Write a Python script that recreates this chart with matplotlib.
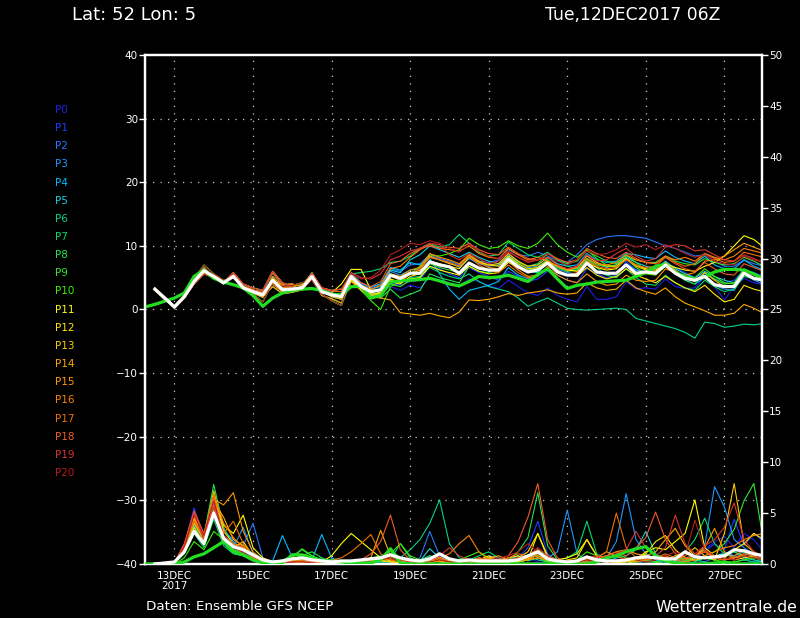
import matplotlib

matplotlib.use("Agg")
import matplotlib.pyplot as plt
import numpy as np

# forecast steps, hours after 12DEC2017 06Z (6-hourly)
step_hours = 6
n_steps = 63

member_names = ["P%d" % k for k in range(21)]
member_colors = [
    "#1e1ee6", "#1e3cff", "#2878ff", "#1e96ff", "#00beff", "#14d2dc", "#00d28c",
    "#00dc6e", "#1ee650", "#32e632", "#3cf000", "#ffff00", "#ffe600", "#ffc800",
    "#ffaa00", "#ff9600", "#ff8200", "#f06e00", "#f05a28", "#dc3232", "#b41e1e",
]

# 850 hPa temperature per member (left axis), steps 1..63
t_p0 = [3.2,1.6,0.2,1.8,4.3,6.0,5.3,4.3,5.1,3.3,2.7,2.0,3.6,2.5,2.7,3.1,5.0,2.2,1.7,1.0,
        4.8,3.0,2.2,2.6,3.6,3.0,3.8,3.4,5.0,4.6,4.2,3.5,4.8,4.4,3.8,3.3,4.6,3.6,2.6,2.2,
        3.4,2.2,1.6,1.2,3.6,1.6,1.6,2.0,4.4,3.2,3.4,3.2,4.8,3.6,3.3,3.4,5.2,3.6,1.5,3.6,4.9,4.2,3.9]
t_p1 = [3.1,1.7,0.5,1.9,4.2,5.8,5.4,4.4,5.0,3.7,3.1,2.6,4.0,2.8,3.0,3.2,4.8,2.6,2.5,2.4,
        5.0,3.4,2.5,2.8,4.2,3.8,4.4,4.6,6.8,6.4,5.6,5.0,6.6,5.8,5.2,4.6,6.0,5.2,4.4,4.8,
        6.0,5.4,4.6,4.2,6.4,5.6,5.0,5.4,7.6,6.2,5.8,6.0,7.4,6.6,5.8,5.0,5.6,4.8,4.2,4.6,6.2,5.8,5.2]
t_p2 = [3.2,1.8,0.4,2.1,4.5,6.2,5.1,4.1,5.3,3.5,2.9,2.2,4.8,3.9,4.0,3.6,5.3,3.1,2.6,1.9,
        5.4,4.0,3.4,4.0,6.4,6.0,7.0,7.2,8.6,8.0,7.6,7.0,8.4,7.6,7.4,7.8,9.4,8.6,8.4,9.0,
        8.4,7.6,7.4,8.6,10.2,11.0,11.4,11.6,11.6,11.4,11.2,10.6,10.0,9.6,9.0,8.4,8.6,7.6,6.8,6.8,7.8,7.2,6.8]
t_p3 = [3.3,1.9,0.3,2.2,4.6,6.4,5.0,4.0,5.4,3.2,2.6,1.9,5.2,3.4,3.6,3.9,5.6,3.0,2.0,1.6,
        5.6,4.0,3.0,3.2,6.0,5.4,6.2,6.4,8.2,7.8,7.4,6.6,8.0,7.2,6.8,7.0,8.6,7.6,6.6,6.8,
        7.8,6.4,5.8,5.6,7.6,6.0,5.4,5.8,7.2,6.2,6.0,5.8,7.0,5.6,4.6,4.0,5.0,3.8,3.2,3.0,5.6,4.6,4.0]
t_p4 = [3.3,1.9,0.6,2.3,4.7,6.6,5.1,4.1,5.6,3.6,3.0,2.8,5.8,3.7,3.3,3.5,5.8,3.3,2.9,2.8,
        5.8,4.2,3.6,4.0,6.6,6.2,7.4,7.0,8.0,5.6,3.2,1.6,3.0,3.4,3.8,4.4,6.6,5.4,4.8,5.4,
        8.2,7.2,6.8,7.0,8.8,7.8,7.4,7.6,8.8,8.6,8.2,8.0,9.2,8.2,7.6,7.2,8.4,7.0,6.4,6.4,7.8,6.8,6.2]
t_p5 = [3.4,2.0,0.5,1.8,4.0,5.6,5.0,4.2,5.8,4.0,3.4,3.0,6.0,4.2,3.6,3.0,5.6,3.4,3.0,3.2,
        5.4,3.8,3.2,3.6,6.2,5.8,7.8,8.6,10.0,9.4,8.8,8.2,9.0,8.2,7.6,7.2,8.2,7.0,6.0,5.8,
        7.4,6.8,6.2,6.4,8.0,7.2,6.6,7.0,8.2,7.4,6.8,6.4,7.6,6.4,5.6,5.0,6.0,5.2,4.6,4.2,6.4,5.6,5.0]
t_p6 = [3.0,1.6,0.3,2.0,4.8,7.0,5.6,4.6,5.0,3.4,2.4,1.2,4.2,3.6,3.8,4.2,4.6,2.4,1.4,0.6,
        4.6,3.0,2.2,2.6,4.8,4.2,5.0,5.2,6.6,5.8,5.2,4.8,5.6,4.4,3.6,3.2,2.8,1.8,0.5,1.2,
        1.8,1.0,0.2,0.0,-0.1,0.0,0.1,0.2,0.0,-1.4,-1.8,-2.2,-2.6,-3.0,-3.6,-4.5,-2.0,-2.2,-2.8,-2.6,-2.3,-2.4,-2.2]
t_p7 = [3.3,1.9,0.6,2.3,4.7,6.6,5.1,4.1,5.6,3.6,3.0,2.8,5.8,3.7,3.3,3.5,5.8,3.3,2.9,2.8,
        5.6,5.8,6.0,6.4,7.4,7.6,8.4,9.6,10.4,9.8,10.2,11.8,10.4,9.0,8.4,8.6,10.6,9.6,8.6,8.2,
        9.0,7.8,6.8,6.4,8.0,6.6,5.4,5.0,6.4,5.0,4.0,3.8,5.4,4.2,3.4,3.0,4.6,3.6,2.8,3.2,5.2,4.8,4.4]
t_p8 = [3.2,1.6,0.2,1.8,4.3,6.0,5.3,4.3,5.1,3.3,2.7,2.0,3.6,2.5,2.7,3.1,5.0,2.2,1.7,1.0,
        5.0,3.2,2.4,1.8,3.2,1.8,2.4,3.0,5.6,5.0,4.6,4.2,6.8,6.0,5.8,6.2,8.4,7.4,6.8,7.2,
        8.8,7.8,7.2,7.6,9.2,8.4,7.6,7.2,8.6,7.4,6.2,5.8,6.8,5.6,4.6,4.0,5.8,4.8,4.0,4.2,6.2,5.4,5.0]
t_p9 = [3.3,1.9,0.3,2.2,4.6,6.4,5.0,4.0,5.4,3.2,2.6,1.9,5.2,3.4,3.6,3.9,5.6,3.0,2.0,1.6,
        5.2,3.4,2.6,2.2,4.0,3.6,4.6,5.0,7.2,6.6,6.2,5.8,7.4,6.6,6.0,6.0,7.8,6.8,6.2,6.6,
        7.8,6.6,6.0,6.2,7.8,7.0,6.8,7.0,8.4,7.8,7.4,7.4,8.4,7.6,7.2,7.0,8.0,7.4,7.0,7.2,8.2,7.6,6.8]
t_p10 = [3.0,1.6,0.3,2.0,4.8,7.0,5.6,4.6,5.0,3.4,2.4,1.2,4.2,3.6,3.8,4.2,4.6,2.4,1.4,0.6,
         5.0,3.0,1.4,0.0,3.6,4.4,5.6,6.8,8.6,8.4,8.8,9.4,11.2,10.2,9.6,9.8,10.8,10.0,9.6,10.4,
         12.0,10.2,9.0,8.2,9.4,8.0,7.0,6.6,8.0,6.6,5.6,5.4,6.8,5.8,5.2,5.0,6.4,5.2,4.2,4.0,5.6,5.0,4.6]
t_p11 = [3.2,1.8,0.4,2.1,4.5,6.2,5.1,4.1,5.3,3.5,2.9,2.2,4.8,3.9,4.0,3.6,5.3,3.1,2.6,4.0,
         6.3,6.3,3.1,2.6,4.8,4.2,4.8,5.0,6.8,6.2,5.8,5.4,6.8,6.0,5.6,5.8,7.4,6.6,6.0,6.4,
         7.6,6.8,6.2,6.0,7.4,6.6,6.2,6.4,8.0,7.0,6.4,6.2,7.2,6.6,6.2,6.0,6.8,7.4,8.4,10.0,11.6,11.0,9.8]
t_p12 = [3.1,1.7,0.5,1.9,4.2,5.8,5.4,4.4,5.0,3.7,3.1,2.6,4.0,2.8,3.0,3.2,4.8,2.6,2.5,2.4,
         4.6,3.2,2.4,2.6,4.4,4.0,5.2,5.6,7.6,7.2,6.8,6.4,8.2,7.4,7.0,6.8,8.4,7.2,6.4,6.6,
         7.6,6.2,5.4,5.2,6.6,5.4,4.8,5.2,6.4,5.4,4.8,4.2,5.2,4.2,3.4,2.8,3.8,2.4,1.2,1.6,3.8,3.2,2.8]
t_p13 = [3.4,2.0,0.5,1.8,4.0,5.6,5.0,4.2,5.8,4.0,3.4,3.0,6.0,4.2,3.6,3.0,5.6,3.4,3.0,3.2,
         4.8,3.4,2.2,2.4,4.6,4.4,5.6,6.2,8.4,7.8,7.2,6.8,8.6,7.6,7.0,7.2,8.8,7.6,6.8,7.0,
         8.2,7.0,6.2,6.6,8.4,7.4,6.8,6.8,8.0,6.8,6.2,6.0,7.4,6.2,5.0,4.4,5.8,4.6,3.6,3.8,6.2,5.6,5.0]
t_p14 = [3.2,1.6,0.2,1.8,4.3,6.0,5.3,4.3,5.1,3.3,2.7,2.0,3.6,2.5,2.7,3.1,5.0,2.2,1.7,1.0,
         4.4,3.0,2.0,1.8,1.5,-0.5,-0.7,-0.9,-0.6,-1.0,-1.3,-0.4,1.5,1.4,1.6,2.0,2.5,2.2,2.6,2.8,
         3.1,2.6,2.4,2.6,4.2,3.4,3.0,3.2,4.6,3.4,2.8,2.4,3.4,2.0,1.0,0.4,-0.2,-0.9,-0.9,-0.6,0.8,0.2,-0.6]
t_p15 = [3.3,1.9,0.3,2.2,4.6,6.4,5.0,4.0,5.4,3.2,2.6,1.9,5.2,3.4,3.6,3.9,5.6,3.0,2.0,1.6,
         5.2,3.6,2.8,3.2,5.6,5.2,6.2,6.6,8.8,8.2,7.8,7.2,8.6,7.4,6.6,6.4,7.6,6.2,5.2,5.4,
         6.6,5.4,4.6,4.2,5.6,4.4,3.8,4.0,5.4,4.6,4.4,4.6,6.4,5.8,5.4,5.8,7.6,7.8,8.4,9.4,10.4,9.8,9.2]
t_p16 = [3.2,1.8,0.4,2.1,4.5,6.2,5.1,4.1,5.3,3.5,2.9,2.2,4.8,3.9,4.0,3.6,5.3,3.1,2.6,1.9,
         5.4,3.8,3.2,3.8,6.4,6.8,8.2,9.4,10.2,9.6,9.4,9.2,10.0,8.8,8.2,8.0,9.6,8.6,7.8,8.2,
         7.6,6.8,6.2,6.6,8.0,7.2,7.0,7.4,8.6,7.8,7.4,7.2,8.4,7.8,8.2,7.6,8.8,8.2,7.8,8.4,9.6,9.2,8.8]
t_p17 = [3.1,1.7,0.5,1.9,4.2,5.8,5.4,4.4,5.0,3.7,3.1,2.6,4.0,2.8,3.0,3.2,4.8,2.6,2.5,2.4,
         5.0,3.6,2.8,3.0,5.2,4.6,5.6,6.4,8.2,7.8,7.4,6.8,8.4,7.0,6.2,5.8,7.0,5.8,5.0,5.2,
         6.8,6.0,5.4,5.8,7.6,6.8,6.4,6.6,7.8,7.0,6.6,6.8,8.2,7.4,6.8,7.2,8.8,8.0,7.4,7.6,9.0,8.6,8.2]
t_p18 = [3.3,1.9,0.6,2.3,4.7,6.6,5.1,4.1,5.6,3.6,3.0,2.8,5.8,3.7,3.3,3.5,5.8,3.3,2.9,2.8,
         5.4,4.2,3.6,4.4,7.2,7.6,8.8,9.6,10.0,9.6,9.8,9.6,10.4,9.4,8.8,8.6,9.8,8.8,8.0,7.8,
         8.8,8.0,7.4,7.8,9.6,8.8,8.2,8.0,9.0,8.0,7.4,7.2,8.2,7.2,6.4,6.0,7.4,6.4,5.6,5.4,7.2,6.6,6.0]
t_p19 = [3.4,2.0,0.5,1.8,4.0,5.6,5.0,4.2,5.8,4.0,3.4,3.0,6.0,4.2,3.6,3.0,5.6,3.4,3.0,3.2,
         5.8,5.0,4.8,5.6,7.8,8.4,9.2,9.6,10.4,10.2,8.6,7.8,8.8,8.0,7.2,7.6,9.0,8.2,7.4,7.8,
         8.2,7.0,6.4,6.8,8.6,7.6,7.8,8.8,9.6,8.4,7.6,8.0,9.8,10.2,10.0,9.2,9.4,8.6,7.8,7.6,8.6,8.0,7.4]
t_p20 = [3.0,1.6,0.3,2.0,4.8,7.0,5.6,4.6,5.0,3.4,2.4,1.2,4.2,3.6,3.8,4.2,4.6,2.4,1.4,0.6,
         5.6,4.8,5.0,6.2,8.6,9.4,10.4,10.2,10.8,10.4,9.6,9.0,10.2,9.2,8.4,8.0,9.2,8.2,7.6,7.8,
         8.8,7.6,7.0,7.8,9.2,8.6,8.8,9.4,10.4,9.8,10.2,9.4,10.2,9.6,8.8,8.2,8.6,7.6,7.2,7.0,8.4,7.8,7.4]

# ensemble mean (white) and main run (thick green, starts at step 0)
t_mean = [3.2,1.8,0.4,2.0,4.4,6.1,5.2,4.2,5.2,3.4,2.8,2.3,4.6,3.1,3.2,3.4,5.2,2.8,2.3,2.0,
          5.2,3.6,2.8,3.1,5.4,4.9,5.7,5.7,7.5,7.0,6.7,5.7,7.3,6.5,6.2,6.2,7.9,6.7,5.9,6.2,
          7.3,5.9,5.4,5.4,7.3,5.9,5.7,5.7,7.0,5.7,5.9,5.7,7.0,5.7,4.9,4.6,5.2,3.9,3.6,3.6,5.7,4.9,4.6]
t_main = [0.4,0.8,1.3,1.8,2.6,5.2,6.2,4.9,4.3,3.9,3.4,2.2,0.5,1.8,2.6,3.0,3.2,3.3,3.0,2.4,
          2.3,3.6,3.6,1.8,2.2,4.3,4.5,4.6,4.7,4.9,4.5,4.0,3.7,4.4,5.2,5.0,5.1,5.4,4.9,4.4,
          5.5,6.4,4.8,3.3,3.8,4.0,4.3,4.4,4.5,4.6,5.2,5.8,6.8,7.1,5.8,5.2,4.7,5.1,5.9,6.3,6.3,6.2,5.6,4.8]

# 6-hourly precipitation per member (right axis), steps 1..63
pr_p0 = [0,0,0.1, 1.4,3.6,2.2,6.0, 2.8,1.8,1.2,0.6, 0.2,0,0.4,0.2, 0,0,0.3,0, 0,0,0.3,0.2, 0,0.4,0.2,0, 0,0.5,0.3,0, 0,0.2,0,0, 0,0,0.2,0.6, 0.2,0,0,0, 0,0.5,0.3,0, 0,0.2,0.4,0.2, 0,0.6,0.3,0.4, 0.8,1.4,2.2,2.7, 1.6,3.0,2.4,1.2]
pr_p1 = [0,0,0.2, 1.8,5.5,2.4,5.2, 2.0,1.2,0.8,0.3, 0.1,0,0,0.2, 0.4,0.2,0.1,0, 0,0,0,0.1, 0.3,0.6,0.2,0, 0,0.3,0.8,0.4, 0,0,0,0.2, 0.3,0.1,0.6,1.6, 4.2,1.0,0.2,0, 0,0.3,0.6,0.2, 0,0,0.3,0.6, 0.2,0,0,0.4, 0.6,1.2,2.0,1.4, 4.4,1.8,3.0,2.2]
pr_p2 = [0,0,0.1, 1.2,4.0,2.6,6.8, 3.2,2.4,1.8,4.0, 0.6,0.2,0.1,0.2, 0.4,0.3,0.6,0.2, 0,0,0,0.2, 0.4,0.1,0,0, 0.6,3.2,0.8,0.2, 0,0,0.3,0.8, 0.6,0.4,0.2,0.4, 1.2,0.6,0.3,0.2, 0,0,0.4,0.2, 0.2,0,0,0.3, 0.2,0,0.3,0.6, 0.4,0.2,0.6,1.2, 0.8,0.4,0.2,0.3]
pr_p3 = [0,0,0.1, 1.6,4.8,2.0,5.6, 2.4,1.6,3.6,1.0, 0.3,0,0,0, 0.2,0,0.2,0.5, 0.2,0,0,0, 0,0.2,0.4,0.2, 0,0.2,0.3,0, 0,0,0.2,0.4, 0.3,0.2,0.4,0.6, 0.8,0.6,1.2,5.3, 1.0,0.3,0.2,0.6, 2.2,6.9,2.4,1.0, 0.4,0.2,0,0.3, 0.6,1.8,7.6,5.6, 2.4,1.6,1.0,0.8]
pr_p4 = [0,0,0.1, 1.4,3.8,1.8,6.4, 3.4,2.2,1.4,0.6, 0.2,0.3,2.8,0.6, 0.2,0.4,2.9,0.6, 0.2,0,0,0, 0.2,0.3,0.1,0, 0.2,0.8,0.4,0.2, 0,0,0,0.1, 0.2,0.4,0.8,0.3, 0.6,0.3,0.2,0, 0,0.2,0.4,0.1, 0,0.3,0.6,1.0, 0.4,0.2,0,0, 0.2,0.6,0.4,0.8, 1.2,0.6,0.4,0.2]
pr_p5 = [0,0,0.1, 1.6,4.2,2.4,5.8, 2.6,1.4,1.0,0.4, 0.1,0,0.3,0.2, 0,0.2,0.4,0.1, 0,0,0.2,0.3, 0.4,0.2,0,0, 0.3,1.5,0.6,0.2, 0,0,0.2,0.4, 0.2,0,0.3,0.8, 0.4,0.2,0,0, 0.2,0.4,0.3,0.2, 0.6,0.8,1.4,3.2, 1.0,0.4,0.2,0.3, 0.4,0.6,0.8,1.0, 0.8,1.2,0.6,0.4]
pr_p6 = [0,0,0.1, 1.2,3.4,2.0,5.4, 2.6,2.0,1.2,0.4, 0.1,0,0,0.2, 0.6,0.4,0.2,0, 0,0,0.2,0.4, 0.2,0,0.6,1.4, 2.4,4.0,6.3,2.0, 0.6,0.2,0,0, 0,0.2,0.4,0.6, 1.2,0.4,0.2,0, 0,0.3,0.6,0.2, 0,0,0.2,0.4, 0.2,0,0,0.2, 0.4,0.2,0,0, 0.2,0.4,0.2,0]
pr_p7 = [0,0,0.1, 1.0,3.0,1.6,4.4, 1.8,1.0,0.8,0.6, 0.4,0.2,0.4,0.8, 1.4,0.8,0.4,0.2, 0,0,0.2,0.6, 0.8,0.4,2.0,0.6, 0.2,0,0.4,0.2, 0,0.4,0.8,1.2, 0.6,0.4,0.2,0.6, 1.4,0.8,0.4,0.6, 1.2,4.2,1.0,0.4, 0.2,0,0.2,0.6, 0.8,0.4,0.8,1.2, 2.4,4.5,2.0,1.0, 0.6,0.8,0.4,0.2]
pr_p8 = [0,0,0.1, 1.8,4.4,2.8,7.8, 3.6,1.8,1.2,0.4, 0.1,0,0.2,0.5, 0.8,1.2,0.6,0.2, 0,0,0,0.3, 0.6,1.4,0.6,0.2, 0.4,0.8,0.6,0.3, 0.2,0,0,0.2, 0.3,0.4,1.2,2.6, 7.0,1.8,0.4,0.2, 0,0.2,0.6,0.4, 0.2,0,0.2,0.4, 0.2,0,0.3,0.6, 0.8,0.6,0.4,1.0, 1.2,0.8,0.6,0.4]
pr_p9 = [0,0,0.1, 1.4,4.0,2.2,5.0, 2.2,1.4,0.8,0.3, 0.1,0,0,0.3, 0.4,0.6,0.3,0.1, 0,0,0,0.2, 0.4,0.6,0.3,0, 0,0.2,0.4,0.2, 0,0,0.1,0.3, 0.2,0,0.2,0.4, 0.6,0.3,0.1,0, 0,0.2,0.3,0.2, 0,0,0.2,0.3, 0.2,0,0,0.4, 0.6,0.8,1.2,2.0, 3.4,6.2,7.9,2.2]
pr_p10 = [0,0,0, 0.6,2.2,1.4,3.2, 2.4,1.6,1.0,0.6, 0.2,0,0,0.6, 1.5,0.8,0.4,0.2, 0,0,0,0.3, 0.6,1.0,2.0,0.8, 0.4,0.2,0.3,0.2, 0.4,0.8,1.2,0.6, 0.2,0,0.2,0.4, 0.6,0.2,0,0, 0.4,1.2,0.8,0.4, 1.0,0.6,0.4,0.2, 0.2,0.4,0.6,0.4, 0.3,0.6,0.4,0.2, 0.2,0.4,0.6,0.4]
pr_p11 = [0,0,0.1, 1.4,4.6,2.6,6.6, 3.8,3.0,4.8,1.6, 0.6,0.2,0,0.3, 0.2,0.1,0.2,0.8, 2.0,3.0,2.2,1.4, 0.6,0.3,0.2,0.4, 0.2,0,0,0.2, 0,0.3,0.6,0.4, 0.2,0.6,0.8,0.4, 3.0,0.8,0.4,0.6, 1.0,2.4,0.8,0.2, 0.2,0,0.4,1.2, 1.6,1.4,2.2,3.0, 6.3,1.6,0.8,0.6, 1.4,2.0,3.0,2.4]
pr_p12 = [0,0,0.1, 1.2,3.6,2.0,5.2, 2.6,1.6,2.2,0.8, 0.2,0,0.1,0.2, 0.3,0.2,0,0, 0,0,0.2,0.4, 0.3,0.2,0.1,0, 0.2,0.4,0.3,0.2, 0,0.2,0.4,0.8, 0.4,0.2,0.6,1.2, 3.0,0.6,0.2,0.4, 0.6,2.4,0.8,0.2, 0,0.2,0.6,1.0, 2.2,2.8,1.4,0.6, 0.4,0.6,0.8,0.6, 0.4,0.6,0.8,1.0]
pr_p13 = [0,0,0.1, 1.6,4.0,2.4,7.2, 3.2,2.0,1.6,0.6, 0.2,0,0,0.1, 0.2,0.4,0.2,0, 0,0.2,0.4,0.6, 0.4,0.2,0,0, 0.2,0.4,0.6,0.3, 0,0.2,0.2,0.6, 0.4,0.2,0.4,0.6, 0.8,0.4,0.2,0, 0.2,0.6,0.4,0.2, 0,0.2,0.4,0.6, 0.8,0.6,0.4,0.8, 1.6,0.8,0.4,3.0, 7.9,2.0,1.2,0.6]
pr_p14 = [0,0,0.1, 1.4,4.4,2.6,6.2, 4.6,2.4,1.8,0.8, 0.2,0,0.2,0.4, 0.6,0.4,0.2,0, 0,0,0.2,0.6, 3.3,0.8,0.4,0.2, 0,0.2,0.4,0.2, 0,0.2,0.4,0.6, 0.8,0.4,0.2,0.4, 1.0,0.6,0.4,0.2, 0,0.4,0.6,0.8, 1.2,1.4,1.0,0.8, 1.2,2.4,3.5,1.8, 0.8,1.4,0.6,0.4, 0.6,1.0,0.8,0.4]
pr_p15 = [0,0,0.1, 1.6,4.6,2.2,6.4, 5.8,7.0,3.2,1.2, 0.4,0.2,0,0.3, 0.6,0.4,0.2,0.1, 0,0,0.2,0.4, 0.6,0.4,0.2,0, 0.2,0.4,0.2,0, 0,0.2,0.4,0.2, 0.2,0.4,0.6,0.4, 0.6,0.4,0.2,0, 0,0.2,0.6,1.2, 0.8,0.4,0.2,0.4, 0.6,0.4,0.8,1.2, 0.8,1.6,3.5,1.2, 0.6,0.8,1.2,0.6]
pr_p16 = [0,0,0.1, 1.8,5.0,2.8,6.8, 4.0,2.6,1.6,0.6, 0.2,0,0,0.2, 0.4,0.6,0.2,0, 0,0,0.1,0.3, 0.4,0.6,0.2,0, 0.2,0.4,0.6,1.0, 2.0,2.8,1.2,0.4, 0.2,0.2,0.4,0.6, 0.8,0.4,0.2,0.2, 0.4,0.6,0.4,0.2, 0.2,0.4,0.6,0.4, 0.6,0.8,0.4,0.2, 0.4,0.8,1.2,1.6, 1.8,2.4,2.8,3.0]
pr_p17 = [0,0,0.1, 1.6,4.2,2.6,5.8, 3.0,4.2,2.0,0.8, 0.2,0,0.1,0.3, 0.2,0,0.2,0.4, 0.6,1.2,2.0,2.9, 1.0,0.4,0.2,0, 0.2,0.6,0.4,0.2, 0,0.2,0.4,0.2, 0.2,0.6,1.0,0.8, 1.4,0.6,0.2,0, 0.2,0.4,0.6,1.2, 5.0,1.6,0.6,0.4, 0.6,1.0,0.6,0.4, 0.8,1.2,0.6,0.4, 0.8,1.4,1.0,0.6]
pr_p18 = [0,0,0.1, 2.0,5.2,3.0,6.6, 2.8,2.0,1.6,0.6, 0.2,0,0.1,0.2, 0.3,0.2,0,0, 0,0.2,0.4,1.0, 2.2,4.8,1.4,0.4, 0.2,0.4,0.6,0.2, 0,0.2,0.6,0.4, 0.4,0.8,2.2,4.6, 7.9,2.4,0.6,0.2, 0,0.2,0.6,0.8, 1.2,0.8,1.6,2.6, 5.1,2.4,1.0,0.6, 0.8,1.2,0.6,0.4, 0.6,1.0,0.8,0.4]
pr_p19 = [0,0,0.1, 1.8,5.0,2.4,5.6, 2.2,1.8,1.0,0.4, 0.1,0,0.2,0.1, 0,0.2,0.4,0.2, 0,0,0.2,0.4, 0.6,0.8,0.4,0.2, 0.2,0.4,0.8,1.6, 0.8,0.4,0.2,0, 0.2,0.4,0.6,0.8, 1.6,0.8,0.4,0.2, 0.4,0.6,0.8,0.4, 1.0,1.4,3.2,1.6, 0.8,1.6,4.8,2.0, 1.0,1.8,2.4,3.6, 6.0,2.4,1.2,0.8]
pr_p20 = [0,0,0.1, 1.6,4.8,2.8,6.2, 2.6,1.6,1.2,0.4, 0.1,0,0,0.2, 0.2,0.1,0,0, 0,0,0.2,0.2, 0.4,0.6,0.2,0, 0,0.2,0.4,0.2, 0.2,0,0.2,0.4, 0.6,0.8,1.2,2.0, 1.2,0.6,0.2,0, 0.2,0.4,0.2,0, 0.4,0.6,0.4,0.2, 0.4,0.8,1.2,0.8, 4.3,1.4,0.8,0.6, 0.4,0.8,0.6,0.4]

pr_mean = [0,0.1,0.2, 1.2,3.2,2.0,5.0, 2.5,1.7,1.4,0.9, 0.4,0.2,0.3,0.5, 0.6,0.4,0.3,0.2, 0.3,0.3,0.4,0.5, 0.6,0.9,0.6,0.4, 0.3,0.5,1.0,0.5, 0.3,0.4,0.3,0.3, 0.3,0.3,0.4,0.8, 1.2,0.5,0.3,0.2, 0.3,0.7,0.4,0.3, 0.3,0.4,0.6,0.7, 0.6,0.5,0.5,1.2, 0.7,0.6,0.7,0.8, 1.4,1.3,1.0,0.8]
pr_main = [0,0,0,0, 0.2,0.7,1.0,1.6, 2.2,1.2,0.9,0.4, 0.1,0,0.1,0.9, 0.9,0.6,0.3,0.3, 0.2,0.1,0.1,0.1, 0.4,1.5,0.1,0, 0,0,0,0, 0,0,0,0, 0,0,0,0, 0,0,0,0, 0,0,0.2,0.6, 0.8,1.2,1.5,1.7, 0.8,0.3,0.1,0, 0,0,0.1,0.2, 0,0,0,0]

date_ticks_h = [18, 66, 114, 162, 210, 258, 306, 354]
date_labels = ["13DEC\n2017", "15DEC", "17DEC", "19DEC", "21DEC", "23DEC", "25DEC", "27DEC"]

temp_members = [t_p0, t_p1, t_p2, t_p3, t_p4, t_p5, t_p6, t_p7, t_p8, t_p9, t_p10,
                t_p11, t_p12, t_p13, t_p14, t_p15, t_p16, t_p17, t_p18, t_p19, t_p20]
precip_members = [pr_p0, pr_p1, pr_p2, pr_p3, pr_p4, pr_p5, pr_p6, pr_p7, pr_p8, pr_p9, pr_p10,
                  pr_p11, pr_p12, pr_p13, pr_p14, pr_p15, pr_p16, pr_p17, pr_p18, pr_p19, pr_p20]

hours = step_hours * np.arange(1, n_steps + 1)
hours_main = step_hours * np.arange(0, n_steps + 1)

plt.rcParams["font.family"] = ["DejaVu Sans"]
fig = plt.figure(figsize=(8, 6.18), dpi=100, facecolor="black")
ax = fig.add_axes([0.18125, 0.0874, 0.77125, 0.8236], facecolor="black")
ax2 = ax.twinx()

for t, p, c in zip(temp_members, precip_members, member_colors):
    ax.plot(hours, t, color=c, lw=0.8, zorder=2)
    ax2.plot(hours, p, color=c, lw=0.8, zorder=2)

ax.plot(hours_main, t_main, color="#22dd22", lw=2.3, zorder=3)
ax.plot(hours, t_mean, color="white", lw=2.3, zorder=4)
ax2.plot(hours_main, pr_main, color="#22dd22", lw=2.3, zorder=3)
ax2.plot(hours, pr_mean, color="white", lw=2.3, zorder=4)

ax.set_xlim(0, 377)
ax.set_ylim(-40, 40)
ax2.set_ylim(0, 50)

ax.set_yticks(np.arange(-40, 41, 10))
ax2.set_yticks(np.arange(0, 51, 5))
ax.set_xticks(date_ticks_h)
ax.set_xticklabels(date_labels)

grid_style = dict(color="#c8c8c8", lw=0.9, ls=(0, (1, 5)))
for h in date_ticks_h:
    ax.axvline(h, zorder=1, **grid_style)
for v in range(-30, 31, 10):
    ax.axhline(v, zorder=1, **grid_style)

for a in (ax, ax2):
    for s in a.spines.values():
        s.set_color("white")
        s.set_linewidth(1.6)
ax.tick_params(axis="y", colors="white", labelsize=7.5, length=4, width=1, pad=1)
ax2.tick_params(axis="y", colors="white", labelsize=7.5, length=4, width=1, pad=1)
ax.tick_params(axis="x", colors="white", labelsize=7.5, length=0, pad=5)
for lbl in ax.get_xticklabels():
    lbl.set_linespacing(1.0)

# member legend on the left
for k, (name, c) in enumerate(zip(member_names, member_colors)):
    fig.text(55 / 800, 1 - (110 + k * 18.15) / 618, name, color=c, fontsize=7.5,
             ha="left", va="center")

fig.text(72 / 800, 1 - 15 / 618, "Lat: 52 Lon: 5", color="white", fontsize=13,
         ha="left", va="center")
fig.text(545 / 800, 1 - 15 / 618, "Tue,12DEC2017 06Z", color="white", fontsize=12.3,
         ha="left", va="center")
fig.text(146 / 800, 1 - 607 / 618, "Daten: Ensemble GFS NCEP", color="white", fontsize=9.7,
         ha="left", va="center")
fig.text(797 / 800, 1 - 607 / 618, "Wetterzentrale.de", color="white", fontsize=11.3,
         ha="right", va="center")

fig.savefig("out.png", dpi=100, facecolor="black")
